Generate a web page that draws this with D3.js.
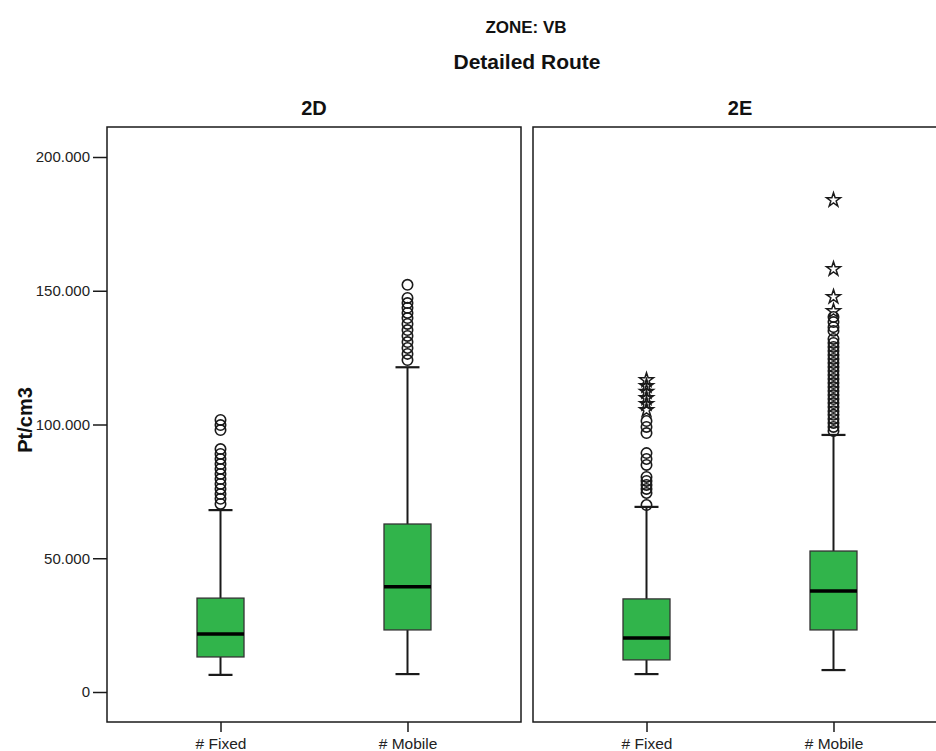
<!DOCTYPE html>
<html>
<head>
<meta charset="utf-8">
<script src="https://cdn.jsdelivr.net/npm/d3@7"></script>
<style>
  html, body { margin: 0; padding: 0; background: #fff; }
  svg { display: block; font-family: "Liberation Sans", Arial, sans-serif; }
</style>
</head>
<body>
<svg id="chart" width="936" height="751"></svg>
<script>
// ---- data ----
const panels = ["2D", "2E"];
const categories = ["# Fixed", "# Mobile"];
const yTicks = [0, 50000, 100000, 150000, 200000];

// box summaries: [lowerWhisker, q1, median, q3, upperWhisker]
const stats2D = [
  [6400, 13100, 21700, 35100, 68000],
  [6700, 23200, 39300, 62800, 121400]
];
const stats2E = [
  [6700, 12000, 20200, 34800, 69200],
  [8200, 23200, 37800, 52700, 96100]
];

// outliers (circles)
const outliers2DFixed = [101700, 99800, 97900, 90800, 89000, 87100, 85200, 83400, 81500, 79600, 77800, 75900, 74000, 72200, 70300];
const outliers2DMobile = [152200, 147300, 145400, 143600, 141700, 139800, 137600, 135300, 133100, 130800, 128600, 126400, 124100];
const outliers2EFixed = [101300, 99100, 96800, 89300, 87100, 84900, 80400, 78900, 77400, 75900, 74400, 69900];
const outliers2EMobile = [140200, 138300, 136400, 135000, 132000, 130500, 129000, 127500, 126000, 124500, 123000, 121500, 120000, 118500, 117000, 115500, 114000, 112500, 111000, 109500, 108000, 106500, 105000, 103600, 102100, 100600, 99100, 97600];

// extremes (stars)
const extremes2DFixed = [];
const extremes2DMobile = [];
const extremes2EFixed = [116600, 114400, 112200, 109900, 107700, 105400];
const extremes2EMobile = [183900, 158100, 147700, 142400];

const panelStats = [stats2D, stats2E];
const panelOutliers = [[outliers2DFixed, outliers2DMobile], [outliers2EFixed, outliers2EMobile]];
const panelExtremes = [[extremes2DFixed, extremes2DMobile], [extremes2EFixed, extremes2EMobile]];

// ---- layout ----
const svg = d3.select("#chart");
const panelTop = 127, panelBottom = 722;
const panelW = 414;
const panelLefts = [107, 533];
const boxW = 47, capW = 24;
const ink = "#1a1a1a";
const green = "#31b44b";

const y = d3.scaleLinear().domain([0, 200000]).range([692, 157]);
const x = d3.scalePoint().domain(categories).range([0, panelW]).padding(0.607);

const locale = d3.formatLocale({ decimal: ",", thousands: ".", grouping: [3], currency: ["", ""] });
const fmt = locale.format(",d");

// titles
svg.append("text").attr("x", 526).attr("y", 33).attr("text-anchor", "middle")
  .attr("font-size", 17).attr("font-weight", "bold").attr("fill", "#111").text("ZONE: VB");
svg.append("text").attr("x", 527).attr("y", 69).attr("text-anchor", "middle")
  .attr("font-size", 21).attr("font-weight", "bold").attr("fill", "#111").text("Detailed Route");

// y axis title
svg.append("text").attr("transform", "translate(32,420) rotate(-90)").attr("text-anchor", "middle")
  .attr("font-size", 20).attr("font-weight", "bold").attr("fill", "#111").text("Pt/cm3");

// y axis
const yAxis = svg.append("g").attr("transform", `translate(${panelLefts[0]},0)`)
  .call(d3.axisLeft(y).tickValues(yTicks).tickFormat(fmt).tickSize(14).tickPadding(3));
yAxis.select(".domain").remove();
yAxis.selectAll(".tick line").attr("stroke", ink).attr("stroke-width", 1.5);
yAxis.selectAll(".tick text").attr("font-size", 15).attr("fill", "#222")
  .attr("font-family", "Liberation Sans, Arial, sans-serif");

const star = d3.symbol().type(d3.symbolStar).size(60);

panels.forEach((name, pi) => {
  const g = svg.append("g").attr("transform", `translate(${panelLefts[pi]},0)`);

  // panel title
  g.append("text").attr("x", panelW / 2).attr("y", 115).attr("text-anchor", "middle")
    .attr("font-size", 20).attr("font-weight", "bold").attr("fill", "#111").text(name);

  // x axis
  const xa = g.append("g").attr("transform", `translate(0,${panelBottom})`)
    .call(d3.axisBottom(x).tickSize(10).tickPadding(6));
  xa.select(".domain").remove();
  xa.selectAll(".tick line").attr("stroke", ink).attr("stroke-width", 1.5);
  xa.selectAll(".tick text").attr("font-size", 15.5).attr("fill", "#222")
    .attr("font-family", "Liberation Sans, Arial, sans-serif");

  // frame
  g.append("rect").attr("x", 0).attr("y", panelTop).attr("width", panelW)
    .attr("height", panelBottom - panelTop).attr("fill", "none")
    .attr("stroke", ink).attr("stroke-width", 1.5);

  categories.forEach((c, ci) => {
    const [lo, q1, med, q3, hi] = panelStats[pi][ci];
    const cx = x(c);

    // whiskers
    g.append("line").attr("x1", cx).attr("x2", cx).attr("y1", y(q3)).attr("y2", y(hi))
      .attr("stroke", ink).attr("stroke-width", 2);
    g.append("line").attr("x1", cx).attr("x2", cx).attr("y1", y(q1)).attr("y2", y(lo))
      .attr("stroke", ink).attr("stroke-width", 2);
    [lo, hi].forEach(v => {
      g.append("line").attr("x1", cx - capW / 2).attr("x2", cx + capW / 2)
        .attr("y1", y(v)).attr("y2", y(v)).attr("stroke", ink).attr("stroke-width", 2.2);
    });

    // box
    g.append("rect").attr("x", cx - boxW / 2).attr("y", y(q3)).attr("width", boxW)
      .attr("height", y(q1) - y(q3)).attr("fill", green)
      .attr("stroke", "#333").attr("stroke-width", 1.3);
    g.append("line").attr("x1", cx - boxW / 2).attr("x2", cx + boxW / 2)
      .attr("y1", y(med)).attr("y2", y(med)).attr("stroke", "#000").attr("stroke-width", 3.5);

    // outliers
    g.selectAll(null).data(panelOutliers[pi][ci]).enter().append("circle")
      .attr("cx", cx).attr("cy", d => y(d)).attr("r", 5.2)
      .attr("fill", "none").attr("stroke", ink).attr("stroke-width", 1.6);

    // extremes
    g.selectAll(null).data(panelExtremes[pi][ci]).enter().append("path")
      .attr("d", star).attr("transform", d => `translate(${cx},${y(d)})`)
      .attr("fill", "none").attr("stroke", ink).attr("stroke-width", 1.5);
  });
});
</script>
</body>
</html>
